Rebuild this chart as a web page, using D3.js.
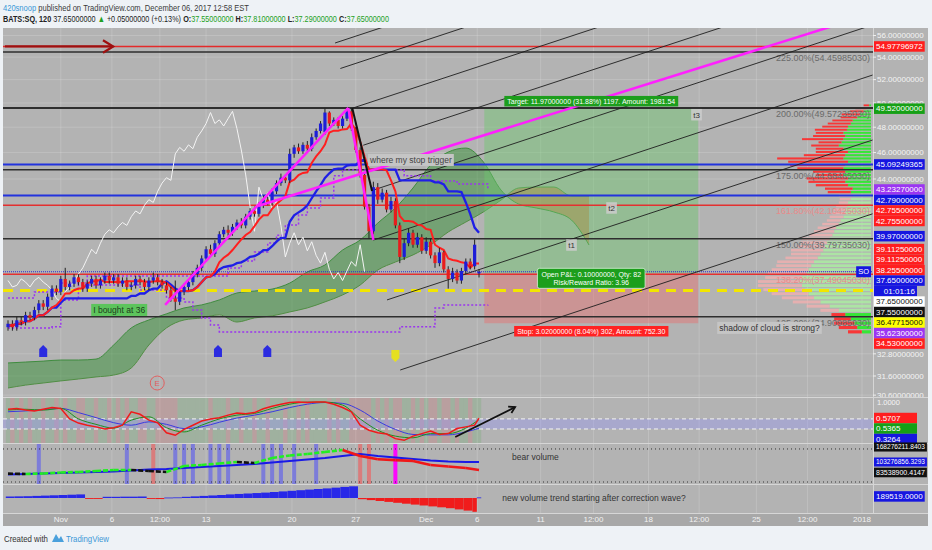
<!DOCTYPE html>
<html><head><meta charset="utf-8">
<script src="https://cdn.jsdelivr.net/npm/d3@7"></script>
<style>
html,body{margin:0;padding:0;background:#eef2f6;}
svg{display:block;font-family:"Liberation Sans",Arial,sans-serif;}
</style></head><body>
<svg id="chart" width="932" height="550"></svg>
<script>
// ================= DATA =================
const headerUser = "420snoop";
const headerRest = " published on TradingView.com, December 06, 2017 12:58 EST";
const symbolText = "BATS:SQ, 120";
const lastPriceText = "37.65000000";
const changeText = "+0.05000000 (+0.13%)";
const ohlcKeys = ["O:", "H:", "L:", "C:"];
const ohlcVals = ["37.55000000", "37.81000000", "37.29000000", "37.65000000"];

const opens = [34.30,34.50,34.30,34.70,34.60,35.00,34.85,35.30,35.70,35.50,36.10,36.60,
36.40,37.20,36.70,36.90,37.30,37.00,36.60,36.90,37.20,36.80,37.10,37.40,
37.10,37.30,36.90,37.10,36.70,36.80,37.20,37.00,36.70,37.10,37.30,37.00,36.80,36.50,36.00,35.80,36.40,36.70,37.00,37.50,
37.90,38.50,39.10,38.80,39.50,40.10,40.40,40.20,40.60,40.90,40.70,41.30,41.70,41.50,42.10,42.50,42.30,43.10,43.70,44.10,
43.90,45.90,46.40,46.10,46.60,46.30,47.20,47.70,47.60,49.20,48.30,48.60,48.10,48.70,
49.30,47.90,46.20,44.30,42.00,40.30,43.40,42.50,43.00,41.80,42.40,40.70,38.60,39.50,40.20,39.40,
39.90,39.00,39.60,38.70,38.20,38.90,37.80,37.20,37.60,37.10,37.70,38.30,38.00,37.55];
const highs = [34.70,34.70,34.90,34.90,35.20,35.20,35.50,35.90,35.90,36.30,36.80,36.80,
37.40,37.90,37.10,37.50,37.50,37.20,37.10,37.40,37.40,37.30,37.60,37.60,
37.50,37.50,37.30,37.30,37.00,37.40,37.40,37.20,37.30,37.60,37.50,37.20,37.00,36.70,37.10,36.60,36.90,37.20,37.70,38.10,
38.70,39.30,39.40,39.70,40.30,40.60,40.70,40.80,41.10,41.20,41.50,41.90,42.00,42.30,42.80,42.70,43.30,43.90,44.40,44.30,
46.30,46.60,46.70,46.80,46.90,47.50,47.90,48.50,49.55,49.30,48.80,48.80,48.90,49.60,
49.50,48.00,46.40,44.50,42.20,43.80,43.70,43.30,43.20,42.70,42.60,40.90,39.80,40.50,40.40,40.20,
40.10,39.90,39.80,38.90,39.20,39.00,38.00,37.90,37.80,37.90,38.50,38.50,39.75,37.81];
const lows = [34.10,34.10,34.10,34.40,34.40,34.70,34.70,35.10,35.30,35.30,35.90,36.20,
36.20,36.50,36.50,36.70,36.80,36.40,36.40,36.70,36.60,36.60,36.90,36.90,
36.90,36.70,36.70,36.50,36.50,36.60,36.80,36.50,36.50,36.90,36.80,36.60,36.30,35.80,35.30,35.60,36.20,36.50,36.80,37.30,
37.70,38.30,38.60,38.60,39.30,39.90,40.00,40.00,40.40,40.50,40.50,41.10,41.30,41.30,41.90,42.10,42.10,42.90,43.50,43.70,
43.70,45.60,45.90,45.90,46.10,46.10,47.00,47.50,47.40,48.10,48.10,47.90,47.90,48.50,
47.70,46.00,44.10,41.80,39.80,40.10,42.20,42.30,41.60,41.60,40.50,38.20,38.40,39.30,39.20,39.20,
38.80,38.80,38.50,37.90,38.00,37.60,36.60,37.00,36.90,36.90,37.50,37.80,37.80,37.29];
const closes = [34.50,34.30,34.70,34.60,35.00,34.85,35.30,35.70,35.50,36.10,36.60,36.40,
37.20,36.70,36.90,37.30,37.00,36.60,36.90,37.20,36.80,37.10,37.40,37.10,
37.30,36.90,37.10,36.70,36.80,37.20,37.00,36.70,37.10,37.30,37.00,36.80,36.50,36.00,35.80,36.40,36.70,37.00,37.50,37.90,
38.50,39.10,38.80,39.50,40.10,40.40,40.20,40.60,40.90,40.70,41.30,41.70,41.50,42.10,42.50,42.30,43.10,43.70,44.10,43.90,
45.90,46.40,46.10,46.60,46.30,47.20,47.70,48.30,49.20,48.30,48.60,48.10,48.70,49.30,
47.90,46.20,44.30,42.00,40.30,43.40,42.50,43.00,41.80,42.40,40.70,38.60,39.50,40.20,39.40,39.90,
39.00,39.60,38.70,38.20,38.90,37.80,37.20,37.60,37.10,37.70,38.30,38.00,39.40,37.65];

// time axis (bar index positions of the labels)
const timeTickBars = [12,23.6,34.5,45,64.5,79,95,106.6,121,133,145.5,157,170,181.6,194];
const timeTickLabels = ["Nov","6","12:00","13","20","27","Dec","6","11","12:00","18","12:00","25","12:00","2018"];
const priceTicks = [56,54,52,50,48,46,44,32.8,31.6,30.6];

// Ichimoku cloud (every 4 bars, displaced 26 bars ahead)
const cloudBars = [0,4,8,12,16,20,24,28,32,36,40,44,48,52,56,60,64,68,72,76,80,84,88,92,96,100,104,108,112,116,120,124,128,132];
const spanA = [32.30,32.35,32.40,32.46,32.46,32.51,33.29,34.26,34.72,35.08,35.43,35.61,35.91,36.33,36.45,36.57,36.94,37.64,38.08,39.05,39.71,40.86,41.91,43.34,45.05,46.04,46.35,45.28,43.19,42.19,41.91,41.63,41.07,39.38];
const spanB = [30.97,31.12,31.23,31.34,31.44,31.55,31.65,32.03,33.29,34.26,34.72,34.84,35.02,34.60,34.84,34.96,35.19,35.43,35.79,36.21,36.82,37.76,38.27,38.73,39.38,40.25,40.93,41.63,42.47,43.34,43.41,43.41,42.76,42.76];

// purple dotted channel (step lines)
const purpleUpBars = [0,6,12,18,40,50,53,56,59,61,63,66,68,71,74,76,86,90,96,102,109];
const purpleUpVals = [36.03,36.39,36.94,37.39,37.39,37.89,38.34,38.92,39.51,40.04,40.73,41.41,41.91,42.62,44.24,44.67,44.67,44.24,43.85,43.63,43.2327];
const purpleDnBars = [0,10,12,16,24,30,36,40,42,44,46,48,88,89,96,97,99,109];
const purpleDnVals = [34.26,34.32,35.91,36.82,36.82,36.51,36.03,35.79,35.31,34.84,34.43,34.03,34.03,34.32,34.32,35.43,35.61,35.623];

// horizontal levels
const fibPercents = [225,200,175,161.8,150,138.2,125];
const fibPrices = [54.4598503,49.5723503,44.6848503,42.1042503,39.7973503,37.4904503,34.9098503];
const fibIsRed = [false,false,false,true,false,true,false];
const levelPrices = [54.97796972,45.09249365,42.79];
const levelColors = ["#e42a2a","#2233dd","#2233dd"];
const yellowLevel = 36.47715;
const lastPrice = 37.65;

// position tool
const entryPrice = 37.55, targetPrice = 49.52, stopPrice = 34.53;
const posStartBar = 108.2, posEndBar = 156.8;
const targetText = "Target: 11.97000000 (31.88%) 1197. Amount: 1981.54";
const pnlText = ["Open P&L: 0.10000000, Qty: 82","Risk/Reward Ratio: 3.96"];
const stopText = "Stop: 3.02000000 (8.04%) 302, Amount: 752.30";

// drawings: parallel channel lines (bar, price) -> (bar, price)
const chanStartBar = [74.3,75.5,78.4,80.7,83.0,83.0,86.1,89.1];
const chanStartPrice = [55.3,52.98,49.58,46.57,43.19,39.71,35.91,31.92];
const chanEndBar = [196.4,196.4,196.4,196.4,196.4,196.4,196.4,196.4];
const chanEndPrice = [74.5,71.2,66.1,61.7,57.0,52.4,46.98,41.5];
// magenta wave lines
const waveBars = [[35.7,77.3],[77.3,83.0],[56.8,196.4]];
const wavePrices = [[35.61,49.58],[49.58,39.71],[42.05,58.1]];
const blackLegBars = [78.2,82.7], blackLegPrices = [49.58,43.12];
const redArrowBars = [-0.7,23.9], redArrowPrice = 54.97796972;

// text notes
const noteTexts = ["where my stop trigger","I bought at 36","shadow of cloud is strong?"];
const noteBars = [81.8,18.9,161.1];
const notePrices = [45.43,35.31,34.26];
const noteBg = ["#c5c5c5","#5cc45c","#c5c5c5"];
const noteFg = ["#444","#1d3d1d","#333"];
const tTexts = ["t3","t2","t1"], tBars = [155.2,135.9,126.8], tPrices = [49.02,41.91,39.38];
const upMarkBars = [8,47.7,58.9], upMarkPrice = 32.95;
const downMarkBars = [88], downMarkPrice = 32.68;
const earnBar = 33.9, earnPrice = 31.23;

// right axis last-value labels (main pane)
const axisLabelValues = [54.97796972,49.52,45.09249365,43.2327,42.79,42.755,42.755,39.97,39.1125,39.1125,38.255,37.65,37.65,37.65,37.55,36.47715,35.623,34.53];
const axisLabelTexts = ["54.97796972","49.52000000","45.09249365","43.23270000","42.79000000","42.75500000","42.75500000","39.97000000","39.11250000","39.11250000","38.25500000","37.65000000","01:01:16","37.65000000","37.55000000","36.47715000","35.62300000","34.53000000"];
const axisLabelBg = ["#ff1e1e","#16a016","#1616e0","#9b35f2","#1616e0","#ff1e1e","#ff1e1e","#1616e0","#ff1e1e","#ff1e1e","#ff1e1e","#1616e0","#1616e0","#ffffff","#111111","#ffff00","#9b35f2","#ff1e1e"];
const axisLabelFg = ["#fff","#fff","#fff","#fff","#fff","#fff","#fff","#fff","#fff","#fff","#fff","#fff","#fff","#111","#fff","#111","#fff","#fff"];

// volume profile (rows of 0.25 from 34.00)
const profileUp = [10,15,18,22,28,35,45,55,62,68,72,75,78,75,70,68,65,62,58,55,52,50,48,45,42,40,38,35,33,30,28,28,26,25,22,20,22,20,25,28,25,30,28,30,28,25,30,28,25,30,35,32,30,28,30,26,25,22,20,15,12,8,5,2];
const profileDown = [15,20,22,18,15,20,25,30,35,40,45,48,45,40,42,40,38,40,35,32,35,30,28,30,25,22,20,18,15,15,14,12,12,10,12,15,25,30,35,40,45,30,35,50,60,65,72,45,35,30,30,25,45,35,30,35,28,25,22,18,20,15,12,6];
const profileLow = 34.0, profileStep = 0.25, valueAreaLow = 35.2, valueAreaHigh = 42.8;

// oscillator pane
const oscFast = [0.78,0.80,0.76,0.74,0.78,0.82,0.80,0.55,0.45,0.40,0.36,0.31,0.34,0.40,0.72,0.66,0.52,0.46,0.22,0.16,0.30,0.40,0.50,0.55,0.58,0.64,0.69,0.67,0.70,0.79,0.85,0.90,0.94,0.95,0.94,0.95,0.95,0.90,0.82,0.72,0.40,0.28,0.22,0.19,0.08,0.04,0.14,0.20,0.26,0.18,0.20,0.32,0.36,0.40,0.5707];
const oscMid = [0.76,0.78,0.76,0.80,0.55,0.42,0.33,0.52,0.60,0.34,0.24,0.40,0.55,0.64,0.68,0.80,0.90,0.95,0.95,0.88,0.55,0.28,0.14,0.10,0.20,0.20,0.33,0.5365];
const oscSlow = [0.72,0.74,0.77,0.80,0.70,0.58,0.46,0.40,0.48,0.42,0.32,0.36,0.47,0.57,0.64,0.72,0.82,0.90,0.94,0.92,0.76,0.50,0.30,0.18,0.17,0.17,0.24,0.3264];
const oscBand = [0.31,0.55];
const oscLabelVals = [0.5707,0.5365,0.3264], oscLabelTexts = ["0.5707","0.5365","0.3264"], oscLabelBg = ["#ff1e1e","#16a016","#1616e0"];
const oscArrowBars = [101.6,115.2], oscArrowVals = [0.12,0.83];

// volume trend pane (millions)
const obvVals = [74.6,73.7,74.9,77.4,78.6,81.1,83.5,83.5,81.1,78.6,93.4,95.9,99.6,103.3,100.8,113.2,119.3,123.0,128.0,133.0,118.0,110.0,108.0,106.0,95.9,92.2,88.5,83.54];
const obvMaVals = [72.4,73.7,74.9,76.1,77.4,78.6,79.8,82.3,84.8,86.0,88.5,91.0,93.4,95.9,98.4,102.1,105.8,109.5,113.2,118.1,123.0,118.1,114.4,110.7,107.0,104.5,103.3,103.28];
const obvBandVals = [135.4,53.9];
const blueSpikeBars = [7,27,38,40,42,46,48,50,58,60,62,65,70];
const redSpikeBars = [33,80,82];
const magentaSpikeBars = [88];
const obvLabelVals = [168.2762118403,103.2768563293,83.5389004147];
const obvLabelTexts = ["168276211.8403","103276856.3293","83538900.4147"];
const obvLabelBg = ["#111111","#1616e0","#111111"];

// histogram pane (millions, every 2 bars)
const histVals = [0.5,0.55,0.6,0.7,0.8,0.9,1.0,1.1,1.2,-0.3,-0.3,0.4,0.4,0.45,0.45,0.5,-0.3,-0.35,0.15,0.2,0.4,0.55,0.7,0.85,1.0,1.2,1.35,1.5,1.65,1.8,2.0,2.2,2.4,2.6,2.8,3.0,3.2,3.45,3.7,3.9,-0.4,-0.7,-1.0,-1.3,-1.6,-1.9,-2.2,-2.5,-2.8,-3.1,-3.4,-3.8,-4.2,-4.6,0.189519];
const histLabelText = "189519.0000";

const notesBottom = ["bear volume","new volume trend starting after correction wave?"];
const bearBar = 114.5, trendBar = 112.3;

// ================= LAYOUT / SCALES =================
const svg = d3.select("#chart");
const defs = svg.append("defs");
const L = 3, R = 873, RA = 928, T = 28;
const P1 = {t:28,b:397}, P2 = {t:398,b:443}, P3 = {t:444,b:484}, P4 = {t:485,b:513}, AX = {t:513,b:526};

const x = d3.scaleLinear().domain([0,194]).range([8,862]);
const yM = d3.scaleLog().domain([31.6,56]).range([376,35.5]);
const yO = d3.scaleLinear().domain([0,1]).range([442,400]);
const yV = d3.scaleLinear().domain([83.54,103.28]).range([470,462]);
const yH = d3.scaleLinear().domain([0,4]).range([498,486]);

function clip(id, p, x0, x1){ defs.append("clipPath").attr("id",id).append("rect").attr("x",x0).attr("y",p.t).attr("width",x1-x0).attr("height",p.b-p.t); }
clip("c1",P1,L,R); clip("c2",P2,L,R); clip("c3",P3,L,R); clip("c4",P4,L,R); clip("cAx1",P1,R,RA);

// backgrounds
svg.append("rect").attr("width",932).attr("height",550).attr("fill","#eef2f6");
svg.append("rect").attr("x",L).attr("y",T).attr("width",RA-L).attr("height",AX.b-T).attr("fill","#b3b3b3");
svg.append("rect").attr("x",L).attr("y",AX.t).attr("width",RA-L).attr("height",AX.b-AX.t).attr("fill","#a8a8a8");

// header: pieces laid out in sequence (spaces kept), then squeezed horizontally to the narrow width of the original
const nb = s => s.replace(/ /g,"\u00A0");
function squeezedLine(xPos, yPos, pieces, targetW, fs){
  const g = svg.append("g");
  let cx = 0;
  pieces.forEach(p=>{
    const t = g.append("text").attr("x",cx).attr("y",0).attr("font-size",fs).attr("fill",p.c).attr("font-weight",p.b?"bold":null).text(nb(p.t));
    cx += t.node().getComputedTextLength();
  });
  g.attr("transform",`translate(${xPos},${yPos}) scale(${targetW/cx},1)`);
}
squeezedLine(3,11,[{t:headerUser,c:"#3b98d6"},{t:headerRest,c:"#3a3a3a"}],246,9.5);
const l2 = [{t:symbolText+" ",c:"#222",b:true},{t:lastPriceText+" ",c:"#222"},{t:"\u25B2",c:"#22a022"},{t:" "+changeText+" ",c:"#222"}];
ohlcKeys.forEach((k,i)=>{ l2.push({t:k,c:"#222",b:true}); l2.push({t:ohlcVals[i]+(i<3?" ":""),c:"#22a022"}); });
squeezedLine(3,22,l2,386,9.5);

// grid
const grid = svg.append("g");
grid.selectAll("line.v").data(timeTickBars).join("line").attr("x1",d=>x(d)).attr("x2",d=>x(d)).attr("y1",T).attr("y2",P4.b).attr("stroke","rgba(255,255,255,0.16)");
grid.selectAll("line.h").data(priceTicks).join("line").attr("x1",L).attr("x2",R).attr("y1",d=>yM(d)).attr("y2",d=>yM(d)).attr("stroke","rgba(255,255,255,0.16)");

// ================= MAIN PANE =================
const m = svg.append("g").attr("clip-path","url(#c1)");

// cloud
const cloud = cloudBars.map((b,j)=>({i:b,a:spanA[j],b:spanB[j]}));
const areaAB = d3.area().x(d=>x(d.i)).y0(d=>yM(d.b)).y1(d=>yM(d.a)).curve(d3.curveMonotoneX);
defs.append("clipPath").attr("id","cAbove").append("path").attr("d", d3.area().x(d=>x(d.i)).y0(P1.t-50).y1(d=>yM(d.b)).curve(d3.curveMonotoneX)(cloud));
defs.append("clipPath").attr("id","cBelow").append("path").attr("d", d3.area().x(d=>x(d.i)).y0(P1.b+50).y1(d=>yM(d.b)).curve(d3.curveMonotoneX)(cloud));
const lineA = d3.line().x(d=>x(d.i)).y(d=>yM(d.a)).curve(d3.curveMonotoneX);
const lineB = d3.line().x(d=>x(d.i)).y(d=>yM(d.b)).curve(d3.curveMonotoneX);
const gA = m.append("g").attr("clip-path","url(#cAbove)");
gA.append("path").attr("d",areaAB(cloud)).attr("fill","rgba(40,140,40,0.45)");
const gB = m.append("g").attr("clip-path","url(#cBelow)");
gB.append("path").attr("d",areaAB(cloud)).attr("fill","rgba(205,105,50,0.55)");
m.append("path").attr("d",lineA(cloud)).attr("fill","none").attr("stroke","#3f8c3f").attr("stroke-width",1);
m.append("path").attr("d",lineB(cloud)).attr("fill","none").attr("stroke","#4f8f45").attr("stroke-width",1);

// position tool zones
const pX0 = x(posStartBar), pX1 = x(posEndBar);
m.append("rect").attr("x",pX0).attr("width",pX1-pX0).attr("y",yM(targetPrice)).attr("height",yM(entryPrice)-yM(targetPrice)).attr("fill","rgba(110,200,110,0.45)");
m.append("rect").attr("x",pX0).attr("width",pX1-pX0).attr("y",yM(entryPrice)).attr("height",yM(stopPrice)-yM(entryPrice)).attr("fill","rgba(232,110,110,0.45)");

// volume profile
const kP = 0.92;
const rows = profileUp.map((u,k)=>({p:profileLow+k*profileStep,u,d:profileDown[k]}));
rows.forEach(r=>{
  const yt = yM(r.p+profileStep/2), yb = yM(r.p-profileStep/2);
  const h = Math.max(1,(yb-yt)-1.2);
  const inVA = r.p>=valueAreaLow && r.p<=valueAreaHigh;
  m.append("rect").attr("x",R-2-r.u*kP).attr("width",r.u*kP).attr("y",yt).attr("height",h).attr("fill",inVA?"rgba(170,240,160,0.8)":"rgba(40,235,40,0.9)");
  m.append("rect").attr("x",R-2-(r.u+r.d)*kP).attr("width",r.d*kP).attr("y",yt).attr("height",h).attr("fill",inVA?"rgba(245,175,175,0.75)":"rgba(255,40,40,0.9)");
});

// horizontal levels
fibPrices.forEach((p,i)=>{
  m.append("line").attr("x1",L).attr("x2",R).attr("y1",yM(p)).attr("y2",yM(p)).attr("stroke",fibIsRed[i]?"#e43030":"#2e2e2e").attr("stroke-width",i===1?2:1.5);
});
levelPrices.forEach((p,i)=>{
  m.append("line").attr("x1",L).attr("x2",R).attr("y1",yM(p)).attr("y2",yM(p)).attr("stroke",levelColors[i]).attr("stroke-width",i===0?1.5:2);
});
m.append("line").attr("x1",L).attr("x2",R).attr("y1",yM(lastPrice)).attr("y2",yM(lastPrice)).attr("stroke","#2a2ad0").attr("stroke-width",1).attr("stroke-dasharray","1,1");
m.append("line").attr("x1",L).attr("x2",R).attr("y1",yM(yellowLevel)).attr("y2",yM(yellowLevel)).attr("stroke","#f2e600").attr("stroke-width",3).attr("stroke-dasharray","10,7");
// fib texts
fibPrices.forEach((p,i)=>{
  m.append("text").attr("x",R-3).attr("y",yM(p)+9).attr("text-anchor","end").attr("font-size",9)
   .attr("fill",fibIsRed[i]?"#e98a8a":"#6a6a6a").text(`${fibPercents[i].toFixed(2)}%(${p.toFixed(8)})`);
});

// channel lines
chanStartBar.forEach((b,i)=>{
  m.append("line").attr("x1",x(b)).attr("y1",yM(chanStartPrice[i])).attr("x2",x(chanEndBar[i])).attr("y2",yM(chanEndPrice[i])).attr("stroke","#1e1e1e").attr("stroke-width",0.9);
});

// purple dotted lines
const stepLine = d3.line().x(d=>x(d[0])).y(d=>yM(d[1])).curve(d3.curveStepAfter);
m.append("path").attr("d",stepLine(purpleUpBars.map((b,i)=>[b,purpleUpVals[i]]))).attr("fill","none").attr("stroke","#9a35ee").attr("stroke-width",1.5).attr("stroke-dasharray","2,2");
m.append("path").attr("d",stepLine(purpleDnBars.map((b,i)=>[b,purpleDnVals[i]]))).attr("fill","none").attr("stroke","#9a35ee").attr("stroke-width",1.5).attr("stroke-dasharray","2,2");

// ichimoku lines derived from the candles
function midline(n){ return closes.map((c,i)=>{ const s=Math.max(0,i-n+1); return [i,(d3.max(highs.slice(s,i+1))+d3.min(lows.slice(s,i+1)))/2]; }); }
const pl = d3.line().x(d=>x(d[0])).y(d=>yM(d[1]));
m.append("path").attr("d",pl(closes.map((c,i)=>[i-26,c]).filter(d=>d[0]>=0))).attr("fill","none").attr("stroke","#f4f4f4").attr("stroke-width",1);
m.append("path").attr("d",pl(midline(26))).attr("fill","none").attr("stroke","#1f1fe6").attr("stroke-width",2.3);
m.append("path").attr("d",pl(midline(9))).attr("fill","none").attr("stroke","#ff1f1f").attr("stroke-width",2);

// candles
const candles = closes.map((c,i)=>({i,o:opens[i],h:highs[i],l:lows[i],c}));
m.selectAll("line.wick").data(candles).join("line").attr("x1",d=>x(d.i)).attr("x2",d=>x(d.i)).attr("y1",d=>yM(d.h)).attr("y2",d=>yM(d.l)).attr("stroke","#222").attr("stroke-width",1);
m.selectAll("rect.body").data(candles).join("rect").attr("x",d=>x(d.i)-1.6).attr("width",3.2)
  .attr("y",d=>yM(Math.max(d.o,d.c))).attr("height",d=>Math.max(1,Math.abs(yM(d.o)-yM(d.c))))
  .attr("fill",d=>d.c>=d.o?"#1d1dd8":"#e81c1c");

// magenta wave + black leg
waveBars.forEach((b,i)=>{
  m.append("line").attr("x1",x(b[0])).attr("y1",yM(wavePrices[i][0])).attr("x2",x(b[1])).attr("y2",yM(wavePrices[i][1])).attr("stroke","#ff1fff").attr("stroke-width",2.5);
});
m.append("line").attr("x1",x(blackLegBars[0])).attr("y1",yM(blackLegPrices[0])).attr("x2",x(blackLegBars[1])).attr("y2",yM(blackLegPrices[1])).attr("stroke","#111").attr("stroke-width",2);

// arrows
function arrow(g,x1,y1,x2,y2,color,w,head){
  g.append("line").attr("x1",x1).attr("y1",y1).attr("x2",x2).attr("y2",y2).attr("stroke",color).attr("stroke-width",w);
  const a=Math.atan2(y2-y1,x2-x1), s=0.55;
  g.append("path").attr("d",`M${x2-head*Math.cos(a-s)},${y2-head*Math.sin(a-s)}L${x2},${y2}L${x2-head*Math.cos(a+s)},${y2-head*Math.sin(a+s)}`)
   .attr("fill","none").attr("stroke",color).attr("stroke-width",w);
}
arrow(m,x(redArrowBars[0]),yM(redArrowPrice),x(redArrowBars[1]),yM(redArrowPrice),"#9e1010",2.2,12);

// markers
upMarkBars.forEach(b=>{ const cx=x(b), cy=yM(upMarkPrice);
  m.append("path").attr("d",`M${cx},${cy-6}L${cx+4},${cy-2}L${cx+4},${cy+6}L${cx-4},${cy+6}L${cx-4},${cy-2}Z`).attr("fill","#2b2be0"); });
downMarkBars.forEach(b=>{ const cx=x(b), cy=yM(downMarkPrice);
  m.append("path").attr("d",`M${cx},${cy+6}L${cx+4},${cy+2}L${cx+4},${cy-6}L${cx-4},${cy-6}L${cx-4},${cy+2}Z`).attr("fill","#e6e020"); });
m.append("circle").attr("cx",x(earnBar)).attr("cy",yM(earnPrice)).attr("r",7).attr("fill","none").attr("stroke","#e06060").attr("stroke-width",1);
m.append("text").attr("x",x(earnBar)).attr("y",yM(earnPrice)+3).attr("text-anchor","middle").attr("font-size",8).attr("fill","#e06060").text("E");

// boxed text helper (shrinks the font when the text would not fit maxW)
function boxText(g, xPos, yc, lines, bg, fg, fs, anchor, opt={}){
  const gg = g.append("g");
  const rect = gg.append("rect");
  const pad = opt.pad==null?3:opt.pad;
  let ts = lines.map(t=>gg.append("text").attr("font-size",fs).attr("fill",fg).text(t));
  let w = d3.max(ts,t=>t.node().getComputedTextLength());
  if(opt.maxW && w>opt.maxW-pad*2){ fs = fs*(opt.maxW-pad*2)/w; ts.forEach(t=>t.attr("font-size",fs)); w = d3.max(ts,t=>t.node().getComputedTextLength()); }
  const lh = fs+1.5;
  ts.forEach((t,k)=>t.attr("y",yc+(k-(lines.length-1)/2)*lh).attr("dy","0.35em"));
  const bw = Math.max(opt.minW||0,w+pad*2), bh = lines.length*lh+(opt.padY||2);
  const x0 = anchor==="middle"? xPos-bw/2 : (anchor==="end"? xPos-bw : xPos);
  ts.forEach(t=>t.attr("x", opt.textEnd? x0+bw-pad : (anchor==="middle"? x0+bw/2 : x0+pad)).attr("text-anchor", opt.textEnd?"end":(anchor==="middle"?"middle":"start")));
  rect.attr("x",x0).attr("y",yc-bh/2).attr("width",bw).attr("height",bh).attr("fill",bg).attr("rx",opt.rx||0)
    .attr("stroke",opt.stroke||"none").attr("stroke-width",opt.stroke?0.8:0);
  return gg;
}

// notes
noteTexts.forEach((t,i)=>boxText(m,x(noteBars[i]),yM(notePrices[i]),[t],noteBg[i],noteFg[i],8.5,"start",{pad:2}));
tTexts.forEach((t,i)=>boxText(m,x(tBars[i]),yM(tPrices[i]),[t],"rgba(205,205,205,0.85)","#333",8,"start",{pad:2}));
// position labels
const pMid = (pX0+pX1)/2;
boxText(m,pMid,yM(targetPrice)-7.5,[targetText],"#1c9e1c","#fff",7,"middle",{pad:3});
boxText(m,pMid,yM(entryPrice)+5,pnlText,"#1c9e1c","#fff",7,"middle",{pad:4,rx:2,stroke:"#d8f0d8",padY:3});
boxText(m,pMid,yM(stopPrice)+8,[stopText],"#ff2222","#fff",7,"middle",{pad:3});
boxText(m,R-2,yM(lastPrice),["SO"],"#1616e0","#fff",7.5,"end",{pad:2});

// ================= OSCILLATOR PANE =================
const o = svg.append("g").attr("clip-path","url(#c2)");
o.selectAll("rect.st").data(candles).join("rect").attr("x",d=>x(d.i)-2.2).attr("width",4.4).attr("y",P2.t).attr("height",P2.b-P2.t)
  .attr("fill",d=>d.c>=d.o?"rgba(40,170,40,0.14)":"rgba(230,40,40,0.14)");
o.append("rect").attr("x",L).attr("width",R-L).attr("y",yO(oscBand[1])).attr("height",yO(oscBand[0])-yO(oscBand[1])).attr("fill","rgba(150,150,255,0.35)");
oscBand.forEach(v=>o.append("line").attr("x1",L).attr("x2",R).attr("y1",yO(v)).attr("y2",yO(v)).attr("stroke","#f4f4f4").attr("stroke-dasharray","4,3"));
const fastBars = d3.range(0,107,2).concat([107]);
const slowBars = d3.range(0,105,4).concat([107]);
const ol = d3.line().x(d=>x(d[0])).y(d=>yO(d[1]));
o.append("path").attr("d",ol.curve(d3.curveMonotoneX)(slowBars.map((b,i)=>[b,oscSlow[i]]))).attr("fill","none").attr("stroke","#3a3ae0").attr("stroke-width",1);
o.append("path").attr("d",ol.curve(d3.curveMonotoneX)(slowBars.map((b,i)=>[b,oscMid[i]]))).attr("fill","none").attr("stroke","#1f8f1f").attr("stroke-width",1);
o.append("path").attr("d",ol.curve(d3.curveLinear)(fastBars.map((b,i)=>[b,oscFast[i]]))).attr("fill","none").attr("stroke","#f01a1a").attr("stroke-width",1.5);
arrow(o,x(oscArrowBars[0]),yO(oscArrowVals[0]),x(oscArrowBars[1]),yO(oscArrowVals[1]),"#111",1.8,7);

// ================= VOLUME TREND PANE =================
const v = svg.append("g").attr("clip-path","url(#c3)");
const spike = (bars,col)=>v.selectAll(null).data(bars).join("rect").attr("x",d=>x(d)-2).attr("width",4).attr("y",P3.t).attr("height",P3.b-P3.t).attr("fill",col);
spike(blueSpikeBars,"rgba(70,70,255,0.5)"); spike(redSpikeBars,"rgba(255,70,70,0.5)"); spike(magentaSpikeBars,"rgba(255,0,255,0.95)");
obvBandVals.forEach(b=>v.append("line").attr("x1",L).attr("x2",R).attr("y1",yV(b)).attr("y2",yV(b)).attr("stroke","#333").attr("stroke-dasharray","1,3"));
const vl = d3.line().x(d=>x(d[0])).y(d=>yV(d[1]));
v.append("path").attr("d",vl(slowBars.map((b,i)=>[b,obvMaVals[i]]))).attr("fill","none").attr("stroke","#1a1ae6").attr("stroke-width",2.2);
const peakIdx = obvVals.indexOf(d3.max(obvVals));
for(let k=0;k<obvVals.length-1;k++){
  const up = obvVals[k+1]>=obvVals[k], after = k>=peakIdx;
  v.append("line").attr("x1",x(slowBars[k])).attr("y1",yV(obvVals[k])).attr("x2",x(slowBars[k+1])).attr("y2",yV(obvVals[k+1]))
   .attr("stroke", after ? (up?"#111":"#f01818") : (up?"#22ee22":"#111")).attr("stroke-width",2.6).attr("stroke-dasharray", after?null:"5,2");
}

// ================= HISTOGRAM PANE =================
const hG = svg.append("g").attr("clip-path","url(#c4)");
const hb = histVals.map((val,i)=>({b:fastBars[i], e:(i<fastBars.length-1?fastBars[i+1]:108), val}));
hG.selectAll("rect").data(hb).join("rect").attr("x",d=>x(d.b)-2.2).attr("width",d=>x(d.e)-x(d.b))
  .attr("y",d=>Math.min(yH(0),yH(d.val))).attr("height",d=>Math.max(0.8,Math.abs(yH(d.val)-yH(0))))
  .attr("fill",d=>d.val>=0?"#2828e8":"#f01c1c");

// pane notes
svg.append("text").attr("x",x(bearBar)).attr("y",460).attr("font-size",8.5).attr("fill","#333").text(notesBottom[0]);
svg.append("text").attr("x",x(trendBar)).attr("y",501).attr("font-size",8.5).attr("fill","#333").text(notesBottom[1]);

// pane separators and axis border
[P1.b+0.5,P2.b+0.5,P3.b+0.5,P4.b+0.5].forEach(yy=>svg.append("line").attr("x1",L).attr("x2",RA).attr("y1",yy).attr("y2",yy).attr("stroke","#d6d6d6"));
svg.append("line").attr("x1",R+0.5).attr("x2",R+0.5).attr("y1",T).attr("y2",AX.t).attr("stroke","#d6d6d6");

// ================= AXES =================
const ax = svg.append("g");
const axTicks = ax.append("g").attr("clip-path","url(#cAx1)");
priceTicks.forEach(p=>{
  axTicks.append("line").attr("x1",R).attr("x2",R+3).attr("y1",yM(p)).attr("y2",yM(p)).attr("stroke","#eee");
  axTicks.append("text").attr("x",R+4).attr("y",yM(p)).attr("dy","0.35em").attr("font-size",8).attr("fill","#f4f4f4").text(p.toFixed(8));
});
ax.append("text").attr("x",R+4).attr("y",P2.t+4).attr("dy","0.35em").attr("font-size",7.5).attr("fill","#f4f4f4").text("1.0000");
function stackLabels(vals,texts,bgs,fgs,scale,gap,minY){
  const items = vals.map((val,i)=>({ny:scale(val),t:texts[i],bg:bgs[i],fg:fgs?fgs[i]:"#fff"}));
  let prev=-1e9;
  items.forEach(d=>{ d.y=Math.max(d.ny,prev+gap,minY); prev=d.y; });
  items.forEach(d=>boxText(ax,R+1,d.y,[d.t],d.bg,d.fg,8,"start",{pad:2,minW:43,padY:1,maxW:RA-R-2,textEnd:d.t.indexOf(":")>0}));
}
stackLabels(axisLabelValues,axisLabelTexts,axisLabelBg,axisLabelFg,yM,10.5,P1.t);
stackLabels(oscLabelVals,oscLabelTexts,oscLabelBg,null,yO,10.5,P2.t+5);
stackLabels(obvLabelVals,obvLabelTexts,obvLabelBg,null,yV,10.5,P3.t+3);
boxText(ax,R+1,yH(histVals[histVals.length-1])-1,[histLabelText],"#1616e0","#fff",8,"start",{pad:2,minW:43,padY:1,maxW:RA-R-2});

// time axis labels
timeTickBars.forEach((b,i)=>{
  ax.append("text").attr("x",x(b)).attr("y",522).attr("text-anchor","middle").attr("font-size",8).attr("fill","#f2f2f2").text(timeTickLabels[i]);
});

// footer
const f1 = svg.append("g"); const f1t = f1.append("text").attr("font-size",9).attr("fill","#333").text("Created with");
f1.attr("transform",`translate(4,542) scale(${44/f1t.node().getComputedTextLength()},1)`);
svg.append("path").attr("d","M52,542 L56,534 L59,539 L61,536 L64,542 Z").attr("fill","#4aa0dc");
const f2 = svg.append("g"); const f2t = f2.append("text").attr("font-size",9).attr("fill","#3b98d6").text("TradingView");
f2.attr("transform",`translate(66,542) scale(${43/f2t.node().getComputedTextLength()},1)`);
</script></body></html>
